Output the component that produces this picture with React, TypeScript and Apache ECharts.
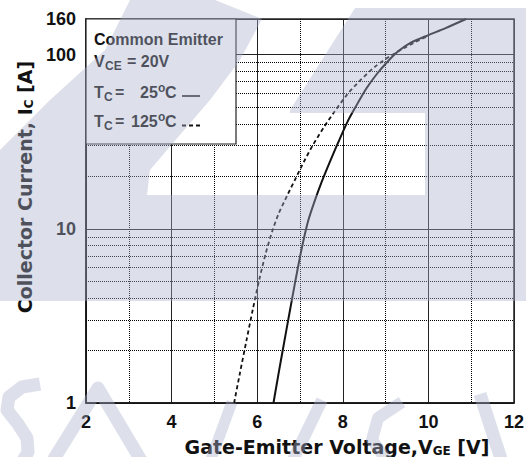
import React, { useEffect, useRef } from "react";
import * as echarts from "echarts";

// Tick values
const xMin = 2;
const xMax = 12;
const xInterval = 2;
const yMin = 1;
const yMax = 160;
const yMinorLines = [2, 3, 4, 5, 6, 7, 8, 9, 20, 30, 40, 50, 60, 70, 80, 90];

// Tc = 25°C (solid)
const vge25 = [6.38, 6.5, 6.62, 6.75, 6.88, 7.0, 7.1, 7.2, 7.35, 7.5, 7.7, 7.9, 8.1, 8.3, 8.55, 8.8, 9.05, 9.3, 9.6, 10.0, 10.4, 10.88];
const ic25 = [1.0, 1.48, 2.16, 3.24, 4.84, 6.9, 9.0, 11.3, 14.6, 18.4, 24.3, 31.6, 40.7, 50.1, 63.8, 77.6, 91.2, 104.7, 117.5, 129.4, 141.9, 160];

// Tc = 125°C (dashed)
const vge125 = [5.46, 5.6, 5.75, 5.9, 6.05, 6.2, 6.35, 6.5, 6.7, 6.9, 7.1, 7.3, 7.55, 7.8, 8.1, 8.4, 8.75, 9.1, 9.45, 9.8, 10.0];
const ic125 = [1.0, 1.5, 2.29, 3.47, 5.13, 7.24, 9.66, 12.2, 15.5, 19.5, 24.5, 30.2, 38.0, 46.8, 58.9, 70.8, 85.1, 97.7, 109.6, 121.6, 128];

const legendFont = 'bold 16px "Liberation Sans", Arial, sans-serif';
const legendSubFont = 'bold 12px "Liberation Sans", Arial, sans-serif';
const legendSupFont = 'bold 12px "Liberation Sans", Arial, sans-serif';

export default function App() {
  const ref = useRef<HTMLDivElement>(null);

  useEffect(() => {
    if (!ref.current) return;
    const chart = echarts.init(ref.current, null, { renderer: "svg" });
    const overlay = "rgba(170,177,205,0.4)";
    const txt = (x: number, y: number, text: string, font: string) => ({
      type: "text",
      x,
      y,
      z: 110,
      silent: true,
      style: { text, font, fill: "#111", align: "left", verticalAlign: "middle" },
    });
    const stroke = (points: number[][], w: number) => ({
      type: "polyline",
      z: 200,
      silent: true,
      shape: { points },
      style: { stroke: overlay, lineWidth: w, fill: null, lineCap: "butt", lineJoin: "round" },
    });

    chart.setOption({
      animation: false,
      backgroundColor: "#ffffff",
      grid: {
        left: 86,
        right: 12,
        top: 19,
        bottom: 54,
        show: true,
        borderColor: "#222",
        borderWidth: 1.5,
        backgroundColor: "transparent",
        outerBoundsMode: "none",
      },
      xAxis: {
        type: "value",
        min: xMin,
        max: xMax,
        interval: xInterval,
        name: "Gate-Emitter Voltage,V{s|GE} [V]",
        nameLocation: "middle",
        nameGap: 33,
        nameTextStyle: {
          fontFamily: '"DejaVu Sans", sans-serif',
          fontWeight: "bold",
          fontSize: 19,
          color: "#111",
          padding: [0, 0, 0, 74],
          rich: {
            s: { fontFamily: '"DejaVu Sans", sans-serif', fontWeight: "bold", fontSize: 12, color: "#111", padding: [9, 0, 0, 0] },
          },
        },
        axisLine: { show: true, lineStyle: { color: "#111", width: 1.5 } },
        axisTick: { show: false },
        axisLabel: {
          margin: 10,
          fontFamily: '"Liberation Sans", Arial, sans-serif',
          fontWeight: "bold",
          fontSize: 18,
          color: "#111",
        },
        splitLine: { show: true, lineStyle: { color: "#222", width: 1 } },
        minorTick: { show: false, splitNumber: 2 },
        minorSplitLine: { show: true, lineStyle: { color: "#000", width: 1, type: "dotted" } },
      },
      yAxis: {
        type: "log",
        logBase: 10,
        min: yMin,
        max: yMax,
        name: "Collector Current, I{s|C} [A]",
        nameLocation: "middle",
        nameGap: 47,
        nameTextStyle: {
          fontFamily: '"DejaVu Sans", sans-serif',
          fontWeight: "bold",
          fontSize: 19,
          color: "#111",
          padding: [0, 0, 0, 48],
          rich: {
            s: { fontFamily: '"DejaVu Sans", sans-serif', fontWeight: "bold", fontSize: 12, color: "#111", padding: [9, 0, 0, 0] },
          },
        },
        axisLine: { show: true, lineStyle: { color: "#111", width: 1.5 } },
        axisTick: { show: false },
        axisLabel: {
          margin: 10,
          showMinLabel: true,
          showMaxLabel: true,
          fontFamily: '"Liberation Sans", Arial, sans-serif',
          fontWeight: "bold",
          fontSize: 18,
          color: "#111",
        },
        splitLine: { show: true, lineStyle: { color: "#222", width: 1 } },
      },
      series: [
        {
          type: "line",
          name: "Tc=25",
          data: vge25.map((v, i) => [v, ic25[i]]),
          symbol: "none",
          smooth: 0.25,
          lineStyle: { color: "#111", width: 2 },
          z: 3,
        },
        {
          type: "line",
          name: "Tc=125",
          data: vge125.map((v, i) => [v, ic125[i]]),
          symbol: "none",
          smooth: 0.25,
          lineStyle: { color: "#111", width: 1.8, type: [4, 3] },
          z: 3,
        },
        {
          type: "line",
          name: "grid",
          data: vge25.map((v, i) => [v, ic25[i]]),
          symbol: "none",
          lineStyle: { opacity: 0 },
          z: 1,
          markLine: {
            silent: true,
            symbol: ["none", "none"],
            label: { show: false },
            z: 1,
            lineStyle: { color: "#000", width: 1, type: "dotted" },
            data: yMinorLines.map((v) => ({ yAxis: v })),
          },
        },
      ],
      graphic: [
        {
          type: "rect",
          z: 100,
          silent: true,
          shape: { x: 86, y: 19, width: 150, height: 125 },
          style: { fill: "#fff", stroke: "#222", lineWidth: 1.2 },
        },
        txt(94, 39, "Common Emitter", legendFont),
        txt(94, 61.5, "V", legendFont),
        txt(105, 65.5, "CE", legendSubFont),
        txt(127, 61.5, "= 20V", legendFont),
        txt(94, 92.5, "T", legendFont),
        txt(104, 96.5, "C", legendSubFont),
        txt(115, 92.5, "=", legendFont),
        txt(140, 92.5, "25", legendFont),
        txt(158, 87.5, "o", legendSupFont),
        txt(165, 92.5, "C", legendFont),
        {
          type: "line",
          z: 110,
          silent: true,
          shape: { x1: 182, y1: 96, x2: 200, y2: 96 },
          style: { stroke: "#111", lineWidth: 1.6 },
        },
        txt(94, 121.5, "T", legendFont),
        txt(104, 125.5, "C", legendSubFont),
        txt(115, 121.5, "=", legendFont),
        txt(131, 121.5, "125", legendFont),
        txt(158, 116.5, "o", legendSupFont),
        txt(165, 121.5, "C", legendFont),
        {
          type: "line",
          z: 110,
          silent: true,
          shape: { x1: 182, y1: 125.5, x2: 203, y2: 125.5 },
          style: { stroke: "#111", lineWidth: 2, lineDash: [4, 3] },
        },
        // watermark overlay
        {
          type: "polygon",
          z: 200,
          silent: true,
          shape: {
            points: [
              [130, 0], [215, 0], [262, 19], [240, 60], [210, 100], [173, 143], [150, 170], [147, 195],
              [425, 195], [425, 113], [290, 113], [290, 110], [355, 8], [526, 8], [526, 301], [0, 301],
              [0, 150], [50, 100], [105, 50],
            ],
          },
          style: { fill: overlay },
        },
        stroke([[40, 384], [22, 387], [9, 397], [7, 410], [18, 424], [27, 438], [28, 452], [22, 462]], 13),
        stroke([[52, 462], [98, 388], [142, 462]], 13),
        stroke([[210, 462], [232, 402]], 11),
        stroke([[292, 462], [322, 400]], 12),
        stroke([[402, 402], [378, 418], [372, 440], [388, 462]], 12),
        stroke([[480, 394], [502, 462]], 13),
      ],
    });
    return () => chart.dispose();
  }, []);

  return (
    <div
      ref={ref}
      style={{ position: "fixed", left: 0, top: 0, width: 526, height: 457, background: "#fff" }}
    />
  );
}
